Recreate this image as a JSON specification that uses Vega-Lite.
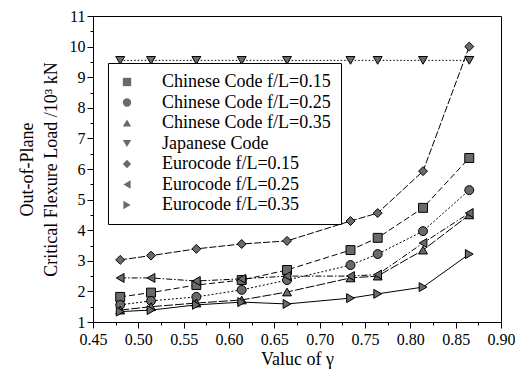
{
  "$schema": "https://vega.github.io/schema/vega-lite/v6.json",
  "autosize": "none",
  "width": 408,
  "height": 306,
  "padding": {"left": 93, "top": 16, "right": 14, "bottom": 52},
  "background": "white",
  "config": {
    "font": "Liberation Serif",
    "view": {"stroke": "black", "strokeWidth": 1},
    "axis": {
      "domainColor": "black",
      "tickColor": "black",
      "labelColor": "black",
      "titleColor": "black",
      "labelFont": "Liberation Serif",
      "titleFont": "Liberation Serif",
      "labelFontSize": 16,
      "titleFontSize": 18,
      "titleFontWeight": "normal",
      "grid": false
    },
    "legend": {
      "labelFont": "Liberation Serif",
      "labelFontSize": 18,
      "labelColor": "black"
    }
  },
  "data": {
    "values": [
      {"series": "Chinese Code f/L=0.15", "x": 0.48, "y": 1.82},
      {"series": "Chinese Code f/L=0.15", "x": 0.514, "y": 1.96},
      {"series": "Chinese Code f/L=0.15", "x": 0.564, "y": 2.21},
      {"series": "Chinese Code f/L=0.15", "x": 0.614, "y": 2.37},
      {"series": "Chinese Code f/L=0.15", "x": 0.664, "y": 2.7},
      {"series": "Chinese Code f/L=0.15", "x": 0.734, "y": 3.35},
      {"series": "Chinese Code f/L=0.15", "x": 0.764, "y": 3.75},
      {"series": "Chinese Code f/L=0.15", "x": 0.814, "y": 4.73},
      {"series": "Chinese Code f/L=0.15", "x": 0.865, "y": 6.36},
      {"series": "Chinese Code f/L=0.25", "x": 0.48, "y": 1.56},
      {"series": "Chinese Code f/L=0.25", "x": 0.514, "y": 1.69},
      {"series": "Chinese Code f/L=0.25", "x": 0.564, "y": 1.82},
      {"series": "Chinese Code f/L=0.25", "x": 0.614, "y": 2.05},
      {"series": "Chinese Code f/L=0.25", "x": 0.664, "y": 2.37},
      {"series": "Chinese Code f/L=0.25", "x": 0.734, "y": 2.86},
      {"series": "Chinese Code f/L=0.25", "x": 0.764, "y": 3.22},
      {"series": "Chinese Code f/L=0.25", "x": 0.814, "y": 3.97},
      {"series": "Chinese Code f/L=0.25", "x": 0.865, "y": 5.31},
      {"series": "Chinese Code f/L=0.35", "x": 0.48, "y": 1.39},
      {"series": "Chinese Code f/L=0.35", "x": 0.514, "y": 1.5},
      {"series": "Chinese Code f/L=0.35", "x": 0.564, "y": 1.62},
      {"series": "Chinese Code f/L=0.35", "x": 0.614, "y": 1.72},
      {"series": "Chinese Code f/L=0.35", "x": 0.664, "y": 1.98},
      {"series": "Chinese Code f/L=0.35", "x": 0.734, "y": 2.44},
      {"series": "Chinese Code f/L=0.35", "x": 0.764, "y": 2.5},
      {"series": "Chinese Code f/L=0.35", "x": 0.814, "y": 3.35},
      {"series": "Chinese Code f/L=0.35", "x": 0.865, "y": 4.5},
      {"series": "Japanese Code", "x": 0.48, "y": 9.55},
      {"series": "Japanese Code", "x": 0.514, "y": 9.55},
      {"series": "Japanese Code", "x": 0.564, "y": 9.55},
      {"series": "Japanese Code", "x": 0.614, "y": 9.55},
      {"series": "Japanese Code", "x": 0.664, "y": 9.55},
      {"series": "Japanese Code", "x": 0.734, "y": 9.55},
      {"series": "Japanese Code", "x": 0.764, "y": 9.55},
      {"series": "Japanese Code", "x": 0.814, "y": 9.55},
      {"series": "Japanese Code", "x": 0.865, "y": 9.55},
      {"series": "Eurocode f/L=0.15", "x": 0.48, "y": 3.03},
      {"series": "Eurocode f/L=0.15", "x": 0.514, "y": 3.17},
      {"series": "Eurocode f/L=0.15", "x": 0.564, "y": 3.39},
      {"series": "Eurocode f/L=0.15", "x": 0.614, "y": 3.55},
      {"series": "Eurocode f/L=0.15", "x": 0.664, "y": 3.65},
      {"series": "Eurocode f/L=0.15", "x": 0.734, "y": 4.3},
      {"series": "Eurocode f/L=0.15", "x": 0.764, "y": 4.56},
      {"series": "Eurocode f/L=0.15", "x": 0.814, "y": 5.93},
      {"series": "Eurocode f/L=0.15", "x": 0.865, "y": 10.0},
      {"series": "Eurocode f/L=0.25", "x": 0.48, "y": 2.44},
      {"series": "Eurocode f/L=0.25", "x": 0.514, "y": 2.44},
      {"series": "Eurocode f/L=0.25", "x": 0.564, "y": 2.34},
      {"series": "Eurocode f/L=0.25", "x": 0.614, "y": 2.41},
      {"series": "Eurocode f/L=0.25", "x": 0.664, "y": 2.5},
      {"series": "Eurocode f/L=0.25", "x": 0.734, "y": 2.5},
      {"series": "Eurocode f/L=0.25", "x": 0.764, "y": 2.55},
      {"series": "Eurocode f/L=0.25", "x": 0.814, "y": 3.58},
      {"series": "Eurocode f/L=0.25", "x": 0.865, "y": 4.56},
      {"series": "Eurocode f/L=0.35", "x": 0.48, "y": 1.34},
      {"series": "Eurocode f/L=0.35", "x": 0.514, "y": 1.39},
      {"series": "Eurocode f/L=0.35", "x": 0.564, "y": 1.56},
      {"series": "Eurocode f/L=0.35", "x": 0.614, "y": 1.65},
      {"series": "Eurocode f/L=0.35", "x": 0.664, "y": 1.59},
      {"series": "Eurocode f/L=0.35", "x": 0.734, "y": 1.78},
      {"series": "Eurocode f/L=0.35", "x": 0.764, "y": 1.92},
      {"series": "Eurocode f/L=0.35", "x": 0.814, "y": 2.14},
      {"series": "Eurocode f/L=0.35", "x": 0.865, "y": 3.22}
    ]
  },
  "encoding": {
    "x": {
      "field": "x",
      "type": "quantitative",
      "scale": {"domain": [0.45, 0.9], "nice": false, "zero": false},
      "axis": {
        "title": "Valuc of γ",
        "values": [0.45, 0.475, 0.5, 0.525, 0.55, 0.575, 0.6, 0.625, 0.65, 0.675, 0.7, 0.725, 0.75, 0.775, 0.8, 0.825, 0.85, 0.875, 0.9],
        "labelExpr": "abs(datum.value*20 - round(datum.value*20)) < 0.001 ? format(datum.value, '.2f') : ''",
        "tickSize": {"condition": {"test": "abs(datum.value*20 - round(datum.value*20)) < 0.001", "value": 6}, "value": 3},
        "labelPadding": 3,
        "titlePadding": 3,
        "labelFlush": false,
        "labelOverlap": false
      }
    },
    "y": {
      "field": "y",
      "type": "quantitative",
      "scale": {"domain": [1, 11], "nice": false, "zero": false},
      "axis": {
        "title": ["Out-of-Plane", "Critical Flexure Load /10³ kN"],
        "titleLineHeight": 24,
        "values": [1, 1.5, 2, 2.5, 3, 3.5, 4, 4.5, 5, 5.5, 6, 6.5, 7, 7.5, 8, 8.5, 9, 9.5, 10, 10.5, 11],
        "labelExpr": "datum.value % 1 == 0 ? format(datum.value, 'd') : ''",
        "tickSize": {"condition": {"test": "datum.value % 1 == 0", "value": 6}, "value": 3},
        "labelPadding": 2,
        "titlePadding": 9,
        "labelFlush": false,
        "labelOverlap": false
      }
    }
  },
  "layer": [
    {
      "transform": [{"filter": "datum.series == 'Chinese Code f/L=0.15'"}],
      "mark": {"type": "line", "color": "black", "strokeWidth": 1, "strokeDash": [6, 3]},
      "encoding": {}
    },
    {
      "transform": [{"filter": "datum.series == 'Chinese Code f/L=0.25'"}],
      "mark": {"type": "line", "color": "black", "strokeWidth": 1, "strokeDash": [2, 2]},
      "encoding": {}
    },
    {
      "transform": [{"filter": "datum.series == 'Chinese Code f/L=0.35'"}],
      "mark": {"type": "line", "color": "black", "strokeWidth": 1, "strokeDash": [9, 2]},
      "encoding": {}
    },
    {
      "transform": [{"filter": "datum.series == 'Japanese Code'"}],
      "mark": {"type": "line", "color": "black", "strokeWidth": 1, "strokeDash": [1.5, 2]},
      "encoding": {}
    },
    {
      "transform": [{"filter": "datum.series == 'Eurocode f/L=0.15'"}],
      "mark": {"type": "line", "color": "black", "strokeWidth": 1, "strokeDash": [7, 2]},
      "encoding": {}
    },
    {
      "transform": [{"filter": "datum.series == 'Eurocode f/L=0.25'"}],
      "mark": {"type": "line", "color": "black", "strokeWidth": 1, "strokeDash": [6, 2, 1.5, 2]},
      "encoding": {}
    },
    {
      "transform": [{"filter": "datum.series == 'Eurocode f/L=0.35'"}],
      "mark": {"type": "line", "color": "black", "strokeWidth": 1},
      "encoding": {}
    },
    {
      "mark": {"type": "point", "filled": true, "fill": "#6a6a6a", "stroke": "black", "strokeWidth": 1, "size": 80, "opacity": 1},
      "encoding": {
        "shape": {
          "field": "series",
          "type": "nominal",
          "scale": {
            "domain": ["Chinese Code f/L=0.15", "Chinese Code f/L=0.25", "Chinese Code f/L=0.35", "Japanese Code", "Eurocode f/L=0.15", "Eurocode f/L=0.25", "Eurocode f/L=0.35"],
            "range": ["square", "circle", "triangle-up", "triangle-down", "diamond", "triangle-left", "triangle-right"]
          },
          "legend": {
            "title": null,
            "orient": "none",
            "legendX": 15,
            "legendY": 47,
            "strokeColor": "black",
            "fillColor": "white",
            "padding": 10,
            "rowPadding": 2.5,
            "symbolSize": 70,
            "symbolFillColor": "#6a6a6a",
            "symbolStrokeColor": "black",
            "symbolStrokeWidth": 1,
            "symbolOffset": 0,
            "labelOffset": 26,
            "labelLimit": 300
          }
        }
      }
    }
  ]
}
